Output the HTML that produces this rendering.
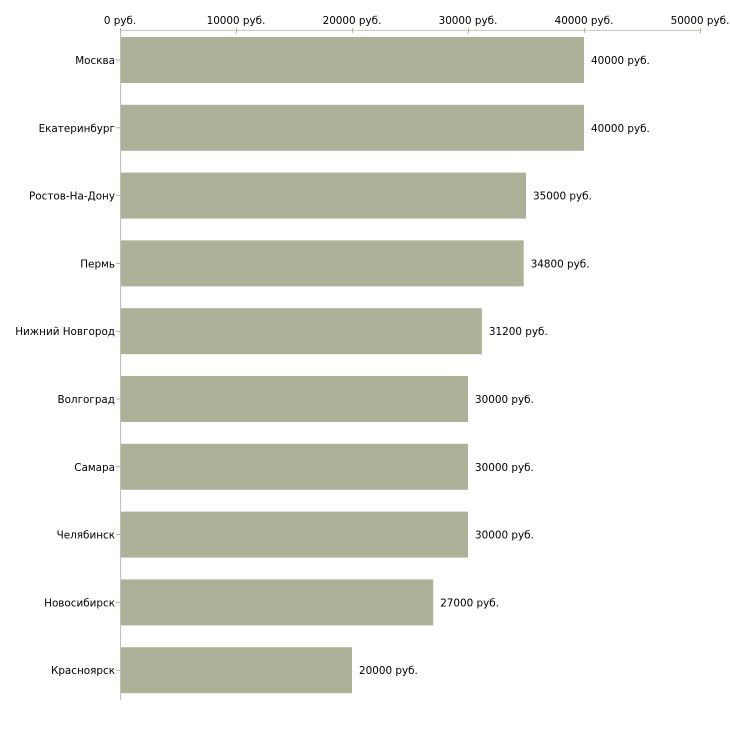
<!DOCTYPE html>
<html><head><meta charset="utf-8"><style>
html,body{margin:0;padding:0;background:#fff;}
svg{display:block;font-family:"DejaVu Sans","Liberation Sans",sans-serif;font-size:10.4px;}
</style></head><body>
<svg width="730" height="730" viewBox="0 0 730 730" xmlns="http://www.w3.org/2000/svg">
<line x1="120" y1="30.5" x2="701" y2="30.5" stroke="#c8c8c0" stroke-width="1"/>
<line x1="120.5" y1="30" x2="120.5" y2="700" stroke="#c0c0c0" stroke-width="1"/>
<g stroke="#b0b08a" stroke-width="1">
<line x1="120.5" y1="28" x2="120.5" y2="33"/>
<line x1="236.5" y1="28" x2="236.5" y2="33"/>
<line x1="352.5" y1="28" x2="352.5" y2="33"/>
<line x1="468.5" y1="28" x2="468.5" y2="33"/>
<line x1="584.5" y1="28" x2="584.5" y2="33"/>
<line x1="700.5" y1="28" x2="700.5" y2="33"/>
</g>
<g fill="#000" text-anchor="middle">
<text x="120" y="24">0 руб.</text>
<text x="236" y="24">10000 руб.</text>
<text x="352" y="24">20000 руб.</text>
<text x="468" y="24">30000 руб.</text>
<text x="584" y="24">40000 руб.</text>
<text x="700" y="24">50000 руб.</text>
</g>
<g id="bars"></g>
</svg>
<script>
var d=[["Москва",40000],["Екатеринбург",40000],["Ростов-На-Дону",35000],["Пермь",34800],["Нижний Новгород",31200],["Волгоград",30000],["Самара",30000],["Челябинск",30000],["Новосибирск",27000],["Красноярск",20000]];
var g=document.getElementById("bars"),h="";
d.forEach(function(r,i){
 var top=37+i*67.8, cy=top+23, w=r[1]*0.0116;
 h+='<rect x="121" y="'+top.toFixed(1)+'" width="'+(w-1).toFixed(1)+'" height="46" fill="#acb297"/>';
 h+='<line x1="116" y1="'+cy.toFixed(1)+'" x2="120" y2="'+cy.toFixed(1)+'" stroke="#b0b08a"/>';
 h+='<text x="115" y="'+(cy+4).toFixed(1)+'" text-anchor="end">'+r[0]+'</text>';
 h+='<text x="'+(120+w+7).toFixed(1)+'" y="'+(cy+4).toFixed(1)+'">'+r[1]+' руб.</text>';
});
g.innerHTML=h;
</script>
</body></html>
